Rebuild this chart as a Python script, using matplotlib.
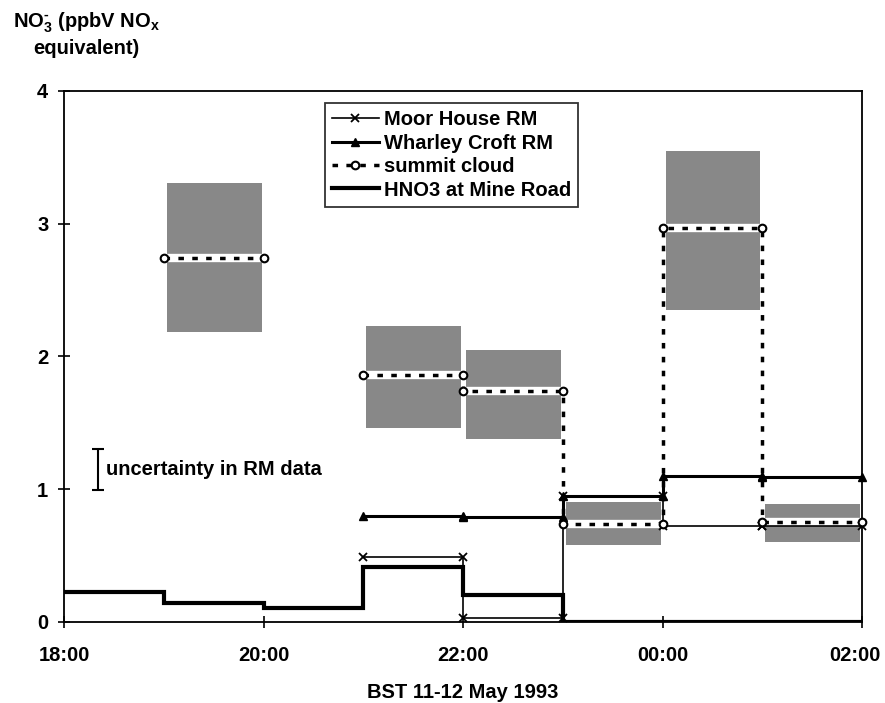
import matplotlib
matplotlib.use("Agg")
import matplotlib.pyplot as plt
import matplotlib.patches as mpatches
import matplotlib.transforms as mtransforms
from matplotlib.lines import Line2D
import numpy as np

# hours counted from 18:00 on 11 May 1993
tick_hours = [0, 2, 4, 6, 8]
tick_labels = ["18:00", "20:00", "22:00", "00:00", "02:00"]
y_ticks = [0, 1, 2, 3, 4]

# HNO3 at Mine Road, hourly values
hno3_edges = [0, 1, 2, 3, 4, 5, 6, 7, 8]
hno3_vals = [0.225, 0.14, 0.105, 0.41, 0.2, 0.0, 0.0, 0.0]

# Moor House RM, hourly values (start hour)
moor_start = [3, 4, 5, 6, 7]
moor_vals = [0.49, 0.03, 0.95, 0.725, 0.725]

# Wharley Croft RM
wharley_start = [3, 4, 5, 6, 7]
wharley_vals = [0.8, 0.79, 0.945, 1.1, 1.09]

# summit cloud, with range shown as grey boxes
cloud_start = [1, 3, 4, 5, 6, 7]
cloud_vals = [2.74, 1.86, 1.74, 0.74, 2.97, 0.755]
cloud_lo = [2.18, 1.46, 1.38, 0.58, 2.35, 0.60]
cloud_hi = [3.31, 2.23, 2.05, 0.90, 3.55, 0.89]

# uncertainty bar for the RM data
unc_x = 0.34
unc_mid = 1.15
unc_half = 0.155


def steps(starts, vals, width=1):
    # turn hourly values into a stepped polyline, break where hours are missing
    x, y = [], []
    prev_end = None
    for s, v in zip(starts, vals):
        if prev_end is not None and s != prev_end:
            x.append(np.nan)
            y.append(np.nan)
        x += [s, s + width]
        y += [v, v]
        prev_end = s + width
    return np.array(x, dtype=float), np.array(y, dtype=float)


plt.rcParams["font.family"] = ["Liberation Sans", "DejaVu Sans"]
plt.rcParams["font.weight"] = "bold"
plt.rcParams["mathtext.fontset"] = "custom"
plt.rcParams["mathtext.rm"] = "Liberation Sans:bold"
plt.rcParams["mathtext.it"] = "Liberation Sans:bold"
plt.rcParams["mathtext.bf"] = "Liberation Sans:bold"

FS = 14.5

fig = plt.figure(figsize=(8.85, 7.03), dpi=100)
ax = fig.add_axes([0.0727, 0.1156, 0.9013, 0.755])

# grey range boxes with a white gap along the cloud value
for s, v, lo, hi in zip(cloud_start, cloud_vals, cloud_lo, cloud_hi):
    ax.add_patch(mpatches.Rectangle((s + 0.03, lo), 0.95, hi - lo,
                                    facecolor="#888888", edgecolor="none", zorder=1))
    ax.plot([s + 0.03, s + 0.98], [v, v], color="white", lw=6,
            solid_capstyle="butt", zorder=2)

# HNO3 at Mine Road
ax.stairs(hno3_vals, hno3_edges, color="black", lw=3, baseline=None, zorder=3)

# Moor House RM
mx, my = steps(moor_start, moor_vals)
ax.plot(mx, my, color="black", lw=1.2, marker="x", ms=6, mew=1.3, zorder=4,
        clip_on=False)

# Wharley Croft RM
wx, wy = steps(wharley_start, wharley_vals)
ax.plot(wx, wy, color="black", lw=2.2, marker="^", ms=5.5, zorder=4, clip_on=False)

# summit cloud
cx, cy = steps(cloud_start, cloud_vals)
ax.plot(cx, cy, color="black", lw=2.5, dashes=(1.6, 2.4), zorder=5)
ax.plot(cx, cy, ls="none", marker="o", ms=5.5, mfc="white", mec="black",
        mew=1.5, zorder=6, clip_on=False)

# uncertainty in RM data
ax.errorbar([unc_x], [unc_mid], yerr=[unc_half], color="black", lw=1.5,
            capsize=4, capthick=1.5, zorder=4)
ax.text(unc_x + 0.08, unc_mid, "uncertainty in RM data", fontsize=FS,
        fontweight="bold", va="center", ha="left")

ax.set_xlim(0, 8)
ax.set_ylim(0, 4)
ax.set_xticks(tick_hours)
ax.set_xticklabels(tick_labels)
ax.set_yticks(y_ticks)
ax.tick_params(direction="inout", length=9, width=1.2, labelsize=FS)
ax.tick_params(axis="x", pad=13)
ax.tick_params(axis="y", pad=7)
for sp in ax.spines.values():
    sp.set_linewidth(1.3)

# keep the last time label inside the figure
last = ax.get_xticklabels()[-1]
last.set_transform(last.get_transform()
                   + mtransforms.ScaledTranslation(-5 / 72, 0, fig.dpi_scale_trans))

ax.set_xlabel("BST 11-12 May 1993", fontsize=FS, fontweight="bold", labelpad=13)
fig.text(0.098, 0.985, "NO$_3^{\\text{-}}$ (ppbV NO$_x$\nequivalent)", fontsize=FS,
         fontweight="bold", ha="center", va="top", multialignment="center",
         linespacing=1.25)

handles = [
    Line2D([], [], color="black", lw=1.2, marker="x", ms=6, mew=1.3),
    Line2D([], [], color="black", lw=2.2, marker="^", ms=5.5),
    Line2D([], [], color="black", lw=2.5, dashes=(1.6, 2.4), marker="o", ms=5.5,
           mfc="white", mec="black", mew=1.5),
    Line2D([], [], color="black", lw=3),
]
labels = ["Moor House RM", "Wharley Croft RM", "summit cloud", "HNO3 at Mine Road"]
leg = ax.legend(handles, labels, loc="upper left", bbox_to_anchor=(0.327, 0.977),
                fontsize=FS, frameon=True, fancybox=False, edgecolor="black",
                handlelength=2.3, handletextpad=0.25, labelspacing=0.22,
                borderpad=0.35, borderaxespad=0)
leg.get_frame().set_linewidth(1.3)

plt.savefig("out.png", dpi=100)
